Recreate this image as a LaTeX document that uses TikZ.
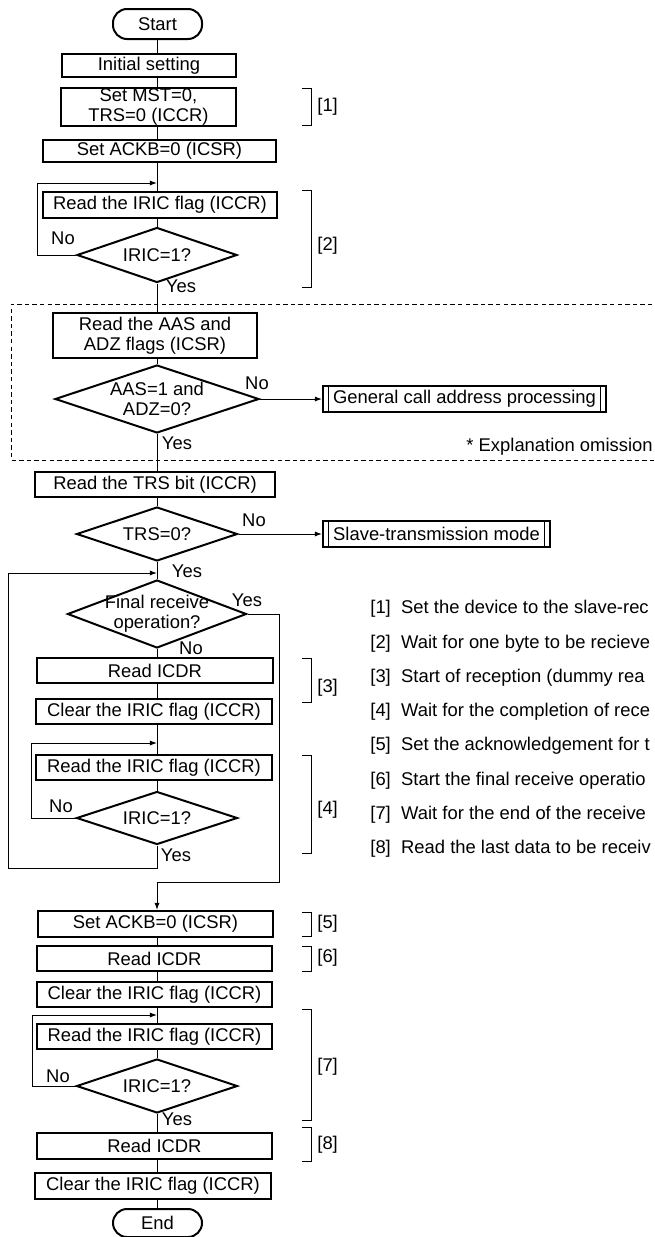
\documentclass[tikz,border=0pt]{standalone}
\usepackage{fontspec}
\setmainfont{Liberation Sans}
\usetikzlibrary{arrows.meta,shapes.geometric,calc}

\begin{document}
\begin{tikzpicture}[
  x=0.5pt, y=-0.5pt,
  font=\fontsize{9.2pt}{10.2pt}\selectfont,
  ln/.style={line width=0.5pt},
  arr/.style={ln, -{Latex[length=3.6pt,width=2.6pt]}},
  prc/.style={draw, line width=1pt, inner sep=0pt, align=center},
  bx/.style={prc, minimum width=118pt, minimum height=12.5pt},
  trm/.style={prc, rounded corners=7pt, minimum width=44.5pt},
  dec/.style={draw, line width=1pt, diamond, inner sep=0pt, minimum width=80.5pt, minimum height=27pt},
  sub/.style={prc, minimum height=13pt, path picture={
      \draw[ln] ([xshift=2.8pt]path picture bounding box.north west) -- ([xshift=2.8pt]path picture bounding box.south west);
      \draw[ln] ([xshift=-2.8pt]path picture bounding box.north east) -- ([xshift=-2.8pt]path picture bounding box.south east);}},
  lbl/.style={inner sep=0pt},
  dsh/.style={ln, dash pattern=on 2.2pt off 1.6pt},
]
  \useasboundingbox (0,0) rectangle (654,1237);
  \fill[white] (0,0) rectangle (654,1237);
  \clip (0,0) rectangle (654,1237);
  \coordinate (sp) at (157,0);

  % main column
  \node[trm, minimum height=15pt] (start) at (157.5,24) {Start};
  \node[prc, minimum width=87pt, minimum height=11.5pt] (init) at (149,65.5) {Initial setting};
  \node[prc, minimum width=87.5pt, minimum height=18pt] (mst) at (148.5,107) {Set MST=0,\\TRS=0 (ICCR)};
  \node[bx, minimum width=116.5pt, minimum height=11pt] (ackb1) at (159.5,151) {Set ACKB=0 (ICSR)};
  \node[bx, minimum width=117pt, minimum height=13pt] (iric1) at (160,205) {Read the IRIC flag (ICCR)};
  \node[dec, minimum width=80pt, minimum height=27.5pt, label={center:IRIC=1?}] (dia1) at (157,255) {};
  \node[prc, minimum width=102pt, minimum height=22.5pt] (aas) at (155,335.5) {Read the AAS and\\ADZ flags (ICSR)};
  \node[dec, minimum width=102pt, minimum height=34pt, label={[align=center]center:AAS=1 and\\ADZ=0?}] (dia2) at (157,399) {};
  \node[sub, minimum width=141.5pt] (gcap) at (464.5,399) {General call address processing};
  \node[bx, minimum width=120pt] (trs) at (155,484.5) {Read the TRS bit (ICCR)};
  \node[dec, label={center:TRS=0?}] (dia3) at (157,534) {};
  \node[sub, minimum width=113.5pt] (slave) at (436.5,534) {Slave-transmission mode};
  \node[dec, minimum width=89.5pt, minimum height=34pt, label={[align=center]center:Final receive\\operation?}] (dia4) at (157,614) {};
  \node[bx] (icdr1) at (155,670.5) {Read ICDR};
  \node[bx] (clr1) at (154,711.5) {Clear the IRIC flag (ICCR)};
  \node[bx] (iric2) at (154,767.5) {Read the IRIC flag (ICCR)};
  \node[dec, minimum height=26.5pt, label={center:IRIC=1?}] (dia5) at (157,818) {};
  \node[bx, minimum width=117.5pt, minimum height=13pt] (ackb2) at (155.5,924) {Set ACKB=0 (ICSR)};
  \node[bx, minimum width=117.5pt] (icdr2) at (154.5,958.5) {Read ICDR};
  \node[bx, minimum width=117.5pt] (clr2) at (154.5,994.5) {Clear the IRIC flag (ICCR)};
  \node[bx, minimum width=117.5pt] (iric3) at (154.5,1036.5) {Read the IRIC flag (ICCR)};
  \node[dec, label={center:IRIC=1?}] (dia6) at (157,1086) {};
  \node[bx, minimum width=117.5pt, minimum height=13pt] (icdr3) at (154.5,1146) {Read ICDR};
  \node[bx, minimum height=13pt] (clr3) at (153,1186) {Clear the IRIC flag (ICCR)};
  \node[trm, minimum height=14pt] (fin) at (157.5,1223) {End};

  \foreach \a/\b in {start/init, init/mst, mst/ackb1, ackb1/iric1, iric1/dia1, dia1/aas, aas/dia2,
      dia2/trs, trs/dia3, dia3/dia4, dia4/icdr1, icdr1/clr1, clr1/iric2, iric2/dia5,
      ackb2/icdr2, icdr2/clr2, clr2/iric3, iric3/dia6, dia6/icdr3, icdr3/clr3, clr3/fin}
    \draw[ln] (\a.south -| sp) -- (\b.north -| sp);

  % loops and branches
  \coordinate (j1) at (157,183);  \coordinate (k1) at (37,183);
  \coordinate (j2) at (157,573);  \coordinate (k2) at (8,868);
  \coordinate (j3) at (157,743);  \coordinate (k3) at (31,743);
  \coordinate (j4) at (157,1015); \coordinate (k4) at (32,1015);
  \coordinate (k5) at (279,882);
  \draw[arr] (dia1.west) -| (k1) -- (j1);
  \draw[arr] (dia5.west) -| (k3) -- (j3);
  \draw[arr] (dia6.west) -| (k4) -- (j4);
  \draw[arr] (dia5.south) |- (k2) |- (j2);
  \draw[arr] (dia4.east) -| (k5) -| (ackb2.north -| sp);
  \draw[arr] (dia2.east) -- (gcap.west);
  \draw[arr] (dia3.east) -- (slave.west);

  % yes / no
  \node[lbl] (n1) at (63,238) {No};
  \node[lbl] (y1) at (181,286) {Yes};
  \node[lbl] (n2) at (257,383) {No};
  \node[lbl] (y2) at (177,443) {Yes};
  \node[lbl] (n3) at (254,520) {No};
  \node[lbl] (y3) at (187,571) {Yes};
  \node[lbl] (y4) at (247,600) {Yes};
  \node[lbl] (n4) at (191,648) {No};
  \node[lbl] (n5) at (61,806) {No};
  \node[lbl] (y5) at (176,855) {Yes};
  \node[lbl] (n6) at (58,1076) {No};
  \node[lbl] (y6) at (177,1119) {Yes};

  % omitted part
  \draw[dsh] (660,304) -- (11,304) -- (11,460) -- (660,460);
  \node[lbl, anchor=east] (omit) at (653,447) {* Explanation omission};

  % brackets
  \foreach \t/\b/\y/\n in {88/125/107/1, 190/287/246/2, 658/702/688/3, 755/853/810/4,
      912/936/924/5, 946/971/958/6, 1009/1120/1067/7, 1127/1161/1145/8} {
    \draw[ln] (302,\t) -- (311,\t) -- (311,\b) -- (302,\b);
    \node[lbl, anchor=west] (b\n) at (317,\y) {[\n]};
  }

  % notes
  \foreach \txt [count=\n] in {Set the device to the slave-rec, Wait for one byte to be recieve,
      Start of reception (dummy rea, Wait for the completion of rece, Set the acknowledgement for t,
      Start the final receive operatio, Wait for the end of the receive, Read the last data to be receiv}
    \node[lbl, anchor=west] (t\n) at (370,{574.7+34.3*\n}) {\makebox[15.4pt][l]{[\n]}\txt};
\end{tikzpicture}
\end{document}
